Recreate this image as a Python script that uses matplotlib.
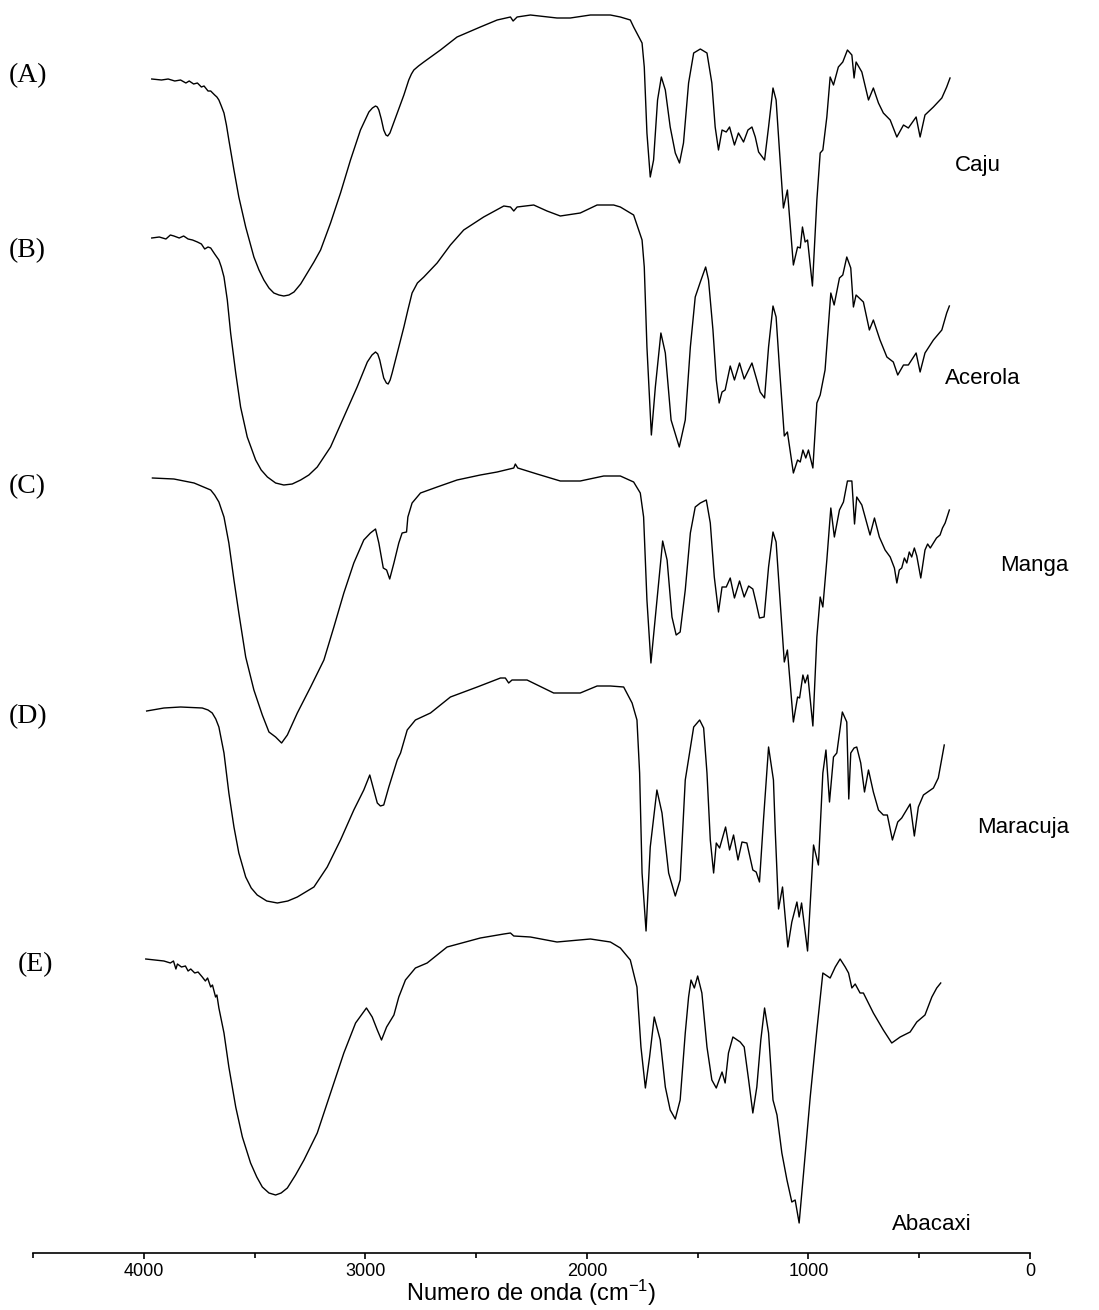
import matplotlib
matplotlib.use("Agg")
import matplotlib.pyplot as plt
from matplotlib.ticker import MultipleLocator

# FTIR spectra, transmittance in arbitrary units (relative to the 4000 cm-1 level)
names = ['Caju', 'Acerola', 'Manga', 'Maracuja', 'Abacaxi']
tags = ['(A)', '(B)', '(C)', '(D)', '(E)']
offsets = [1174, 1015, 775, 542, 294]

wn_caju = [3964, 3920, 3890, 3860, 3834, 3810, 3795, 3775, 3758, 3740, 3728, 3710, 3698, 3680, 3670,
           3661, 3650, 3638, 3627, 3616, 3593, 3571, 3540, 3503, 3480, 3458, 3435, 3413, 3390, 3368,
           3345, 3322, 3292, 3262, 3232, 3202, 3157, 3112, 3067, 3022, 2984, 2968, 2954, 2946, 2939,
           2928, 2917, 2907, 2899, 2889, 2879, 2856, 2826, 2804, 2792, 2781, 2760, 2736, 2661, 2586,
           2481, 2405, 2345, 2333, 2315, 2255, 2135, 2075, 1984, 1894, 1849, 1804, 1789, 1751, 1741,
           1729, 1714, 1699, 1681, 1664, 1646, 1624, 1601, 1582, 1564, 1541, 1518, 1488, 1458, 1436,
           1421, 1406, 1390, 1371, 1356, 1334, 1316, 1293, 1273, 1255, 1240, 1225, 1198, 1180, 1160,
           1146, 1131, 1113, 1095, 1068, 1049, 1037, 1027, 1015, 1004, 982, 962, 947, 935, 917,
           902, 887, 865, 845, 824, 804, 794, 785, 759, 729, 707, 684, 662, 631, 601,
           571, 549, 514, 496, 474, 436, 398, 376, 361]
t_caju = [0, -1, 0, -2, -1, -4, -2, -5, -4, -8, -7, -12, -12, -16, -18,
          -21, -27, -34, -46, -61, -91, -118, -148, -178, -191, -201, -209, -214, -216, -217,
          -216, -213, -205, -194, -183, -171, -144, -114, -81, -51, -33, -29, -27, -28, -31,
          -40, -51, -56, -57, -54, -48, -34, -16, -1, 5, 9, 13, 17, 29, 42,
          52, 59, 62, 58, 62, 64, 61, 61, 64, 64, 62, 59, 52, 36, 12,
          -54, -98, -81, -21, 2, -11, -48, -74, -84, -64, -4, 26, 30, 26, -4,
          -48, -71, -51, -53, -48, -66, -54, -63, -51, -48, -58, -73, -81, -48, -9,
          -21, -71, -129, -111, -186, -168, -169, -148, -163, -161, -207, -121, -74, -71, -38,
          2, -6, 12, 17, 29, 24, 1, 17, 7, -21, -9, -24, -34, -41, -58,
          -46, -49, -38, -58, -36, -28, -19, -8, 1]

wn_acerola = [3964, 3930, 3900, 3880, 3864, 3840, 3820, 3800, 3780, 3758, 3740, 3725, 3710, 3698, 3680,
              3661, 3650, 3638, 3623, 3608, 3585, 3563, 3533, 3495, 3470, 3442, 3405, 3368, 3330, 3292,
              3255, 3217, 3157, 3097, 3037, 2991, 2970, 2954, 2944, 2935, 2917, 2905, 2897, 2888, 2879,
              2856, 2826, 2808, 2789, 2765, 2736, 2676, 2616, 2556, 2466,
              2375, 2345, 2330, 2315, 2240, 2180, 2120, 2030, 1954, 1879, 1849, 1789, 1751, 1741, 1729,
              1709, 1691, 1666, 1646, 1620, 1583, 1556, 1533, 1511, 1488, 1464, 1451, 1431, 1416, 1403,
              1390, 1376, 1353, 1334, 1311, 1290, 1255, 1233, 1218, 1198, 1180, 1160, 1146, 1131, 1109,
              1095, 1068, 1049, 1037, 1025, 1012, 1000, 980, 962, 947, 925, 899, 884, 860, 845,
              827, 809, 797, 785, 752, 725, 707, 677, 646, 617, 597, 571, 549, 514, 496,
              474, 436, 398, 376, 364]
t_acerola = [0, 1, -1, 3, 2, 0, 2, -1, -2, -4, -6, -11, -9, -10, -16,
             -22, -29, -39, -62, -95, -135, -169, -199, -222, -232, -239, -245, -247, -246, -242,
             -237, -229, -209, -179, -149, -124, -117, -114, -116, -122, -140, -145, -146, -142, -135,
             -115, -89, -72, -55, -45, -39, -25, -7, 8, 21,
             32, 31, 27, 31, 33, 27, 22, 25, 33, 33, 31, 23, -2, -29, -109,
             -197, -149, -95, -115, -182, -209, -182, -109, -59, -44, -29, -42, -92, -142, -165,
             -154, -152, -128, -142, -125, -141, -125, -142, -154, -160, -109, -68, -79, -129, -198,
             -194, -235, -222, -224, -212, -220, -212, -230, -165, -157, -132, -55, -67, -40, -37,
             -19, -30, -69, -57, -64, -92, -82, -102, -119, -124, -137, -127, -127, -115, -134,
             -115, -102, -92, -75, -68]

wn_manga = [3961, 3864, 3773, 3698, 3680, 3661, 3638, 3616, 3593, 3571, 3540, 3503, 3465, 3435, 3405, 3378,
            3352, 3307, 3247, 3187, 3142, 3097, 3052, 3007, 2977, 2954, 2939, 2919, 2904, 2890, 2871,
            2849, 2834, 2814, 2808, 2789, 2751, 2676, 2586, 2481, 2405, 2330, 2323, 2312, 2225, 2120,
            2030, 1924, 1849, 1789, 1759, 1744, 1729, 1711, 1691, 1658, 1638, 1616, 1597, 1579, 1556,
            1533, 1511, 1488, 1461, 1443, 1425, 1406, 1390, 1371, 1353, 1334, 1311, 1290, 1270, 1251,
            1236, 1221, 1200, 1180, 1160, 1146, 1128, 1109, 1095, 1068, 1049, 1040, 1025, 1015, 1003,
            980, 962, 947, 935, 917, 899, 883, 860, 842, 824, 804, 792, 782, 759, 722,
            702, 680, 654, 631, 612, 601, 590, 579, 567, 556, 545, 534, 522, 511, 493,
            474, 462, 450, 436, 422, 406, 395, 383, 364]
t_manga = [0, -1, -5, -12, -17, -24, -39, -65, -102, -135, -179, -212, -237, -254, -259, -265,
           -257, -235, -209, -182, -149, -115, -85, -62, -55, -51, -65, -90, -92, -101, -85,
           -65, -55, -54, -39, -25, -15, -9, -2, 3, 6, 10, 14, 10, 4, -3,
           -3, 2, 2, -4, -15, -39, -122, -185, -139, -63, -82, -139, -157, -154, -112,
           -55, -29, -25, -22, -45, -99, -134, -109, -109, -100, -120, -103, -119, -108, -111,
           -125, -140, -139, -89, -54, -64, -122, -184, -172, -244, -219, -220, -197, -205, -197,
           -248, -159, -119, -129, -82, -30, -59, -32, -24, -3, -3, -46, -19, -27, -57,
           -40, -59, -72, -79, -90, -105, -92, -90, -80, -85, -74, -79, -70, -78, -100,
           -72, -66, -70, -65, -60, -57, -50, -45, -32]

wn_maracuja = [3987, 3909, 3834, 3736, 3710, 3691, 3675, 3661, 3638, 3616, 3593, 3571, 3540, 3515, 3488,
               3445, 3397, 3350, 3307, 3232,
               3172, 3112, 3052, 3007, 2980, 2946, 2932, 2917, 2894, 2856, 2841, 2811, 2774, 2706, 2616,
               2495, 2390, 2368, 2353, 2338, 2270, 2150, 2030, 1954, 1894, 1834, 1796, 1774, 1762, 1751,
               1733, 1714, 1684, 1661, 1631, 1601, 1579, 1556, 1518, 1491, 1473, 1458, 1443, 1428, 1416,
               1401, 1374, 1356, 1338, 1318, 1300, 1278, 1251, 1236, 1221, 1203, 1180, 1158, 1150, 1135,
               1117, 1093, 1075, 1052, 1042, 1031, 1004, 977, 955, 935, 921, 905, 887, 872, 847,
               827, 818, 809, 794, 782, 764, 747, 729, 707, 684, 662, 644, 621, 597, 579,
               541, 522, 504, 481, 436, 414, 387]
t_maracuja = [0, 3, 4, 3, 1, -2, -8, -16, -42, -82, -116, -142, -166, -177, -184,
              -190, -192, -190, -186, -176,
              -156, -129, -99, -79, -64, -92, -95, -94, -76, -49, -42, -19, -9, -2, 14,
              24, 33, 33, 28, 31, 31, 18, 18, 25, 25, 24, 8, -9, -62, -162,
              -220, -136, -79, -102, -162, -185, -169, -69, -16, -9, -17, -62, -129, -162, -132,
              -137, -116, -139, -124, -149, -131, -132, -159, -161, -171, -109, -36, -69, -119, -198,
              -176, -236, -211, -191, -206, -192, -240, -134, -154, -62, -39, -91, -46, -42, -1,
              -11, -88, -42, -37, -36, -52, -81, -59, -81, -99, -104, -104, -129, -111, -107,
              -93, -125, -96, -84, -77, -67, -34]

wn_abacaxi = [3991, 3950, 3909, 3880, 3866, 3855, 3848, 3830, 3812, 3800, 3788, 3770, 3755, 3736, 3722,
              3712, 3698, 3690, 3676, 3670, 3661, 3638, 3616, 3585, 3555, 3518, 3490, 3465, 3435, 3405,
              3380, 3352, 3315, 3277,
              3217, 3157, 3097, 3044, 2995, 2969, 2946, 2927, 2904, 2871, 2849, 2819, 2774, 2721, 2631,
              2481, 2375, 2345, 2330, 2255, 2135, 1984, 1894, 1849, 1804, 1774, 1756, 1736, 1717, 1696,
              1669, 1646, 1624, 1601, 1579, 1556, 1541, 1530, 1515, 1500, 1481, 1458, 1436, 1416, 1390,
              1376, 1361, 1341, 1308, 1290, 1270, 1251, 1233, 1215, 1198, 1180, 1160, 1142, 1120, 1097,
              1075, 1060, 1042, 1022, 992, 962, 935, 902, 879, 857, 834, 819, 804, 789, 767,
              752, 707, 662, 624, 586, 541, 511, 474, 443, 421, 403]
t_abacaxi = [0, -1, -2, -4, -2, -10, -5, -8, -7, -12, -10, -14, -13, -18, -22,
             -19, -28, -26, -38, -36, -49, -74, -108, -148, -178, -204, -218, -228, -234, -236,
             -234, -229, -216, -201,
             -174, -134, -94, -64, -49, -58, -71, -81, -68, -56, -38, -21, -9, -4, 12,
             21, 25, 26, 23, 22, 17, 20, 17, 11, -1, -28, -88, -129, -98, -58,
             -81, -128, -151, -160, -141, -74, -38, -21, -29, -17, -34, -88, -121, -129, -113,
             -124, -94, -78, -83, -88, -121, -154, -128, -81, -49, -74, -141, -156, -194, -221,
             -243, -241, -264, -214, -138, -71, -14, -19, -8, 0, -8, -14, -29, -25, -34,
             -34, -54, -71, -84, -78, -73, -63, -56, -38, -29, -24]

spectra = [(wn_caju, t_caju), (wn_acerola, t_acerola), (wn_manga, t_manga),
           (wn_maracuja, t_maracuja), (wn_abacaxi, t_abacaxi)]

plt.rcParams['mathtext.default'] = 'regular'

W, H = 1099, 1310
fig = plt.figure(figsize=(W / 100, H / 100), dpi=100)
ax = fig.add_axes([33 / W, 57 / H, 997 / W, 1248 / H])

for (wn, t), off in zip(spectra, offsets):
    ax.plot(wn, [v + off for v in t], color='black', lw=1.0)

ax.set_xlim(4500, 0)
ax.set_ylim(0, 1248)
for s in ['top', 'right', 'left']:
    ax.spines[s].set_visible(False)
ax.spines['bottom'].set_linewidth(1.2)
ax.set_yticks([])
ax.xaxis.set_major_locator(MultipleLocator(1000))
ax.xaxis.set_minor_locator(MultipleLocator(500))
ax.tick_params(axis='x', which='major', direction='out', length=4.5, width=1.2, pad=3,
               labelsize=13)
ax.tick_params(axis='x', which='minor', direction='out', length=3.5, width=1.2)
for lab in ax.get_xticklabels():
    lab.set_fontfamily('Liberation Sans')

ax.set_xlabel('Numero de onda (cm$^{-1}$)', fontsize=17, family='Liberation Sans')
ax.xaxis.label.set_va('center')
ax.xaxis.set_label_coords(0.5, -40 / 1248)

# sample labels on the left
tag_pos = [(9, 76), (9, 251), (9, 487), (9, 717), (18, 965)]
for tag, (px, py) in zip(tags, tag_pos):
    fig.text(px / W, 1 - py / H, tag, family='Liberation Serif', fontsize=20,
             ha='left', va='center')

# sample names on the right
name_pos = [(978, 166), (983, 378), (1034, 565), (1023, 828), (932, 1224)]
for name, (px, py) in zip(names, name_pos):
    fig.text(px / W, 1 - py / H, name, family='Liberation Sans', fontsize=16,
             ha='center', va='center')

fig.savefig('out.png', dpi=100)
